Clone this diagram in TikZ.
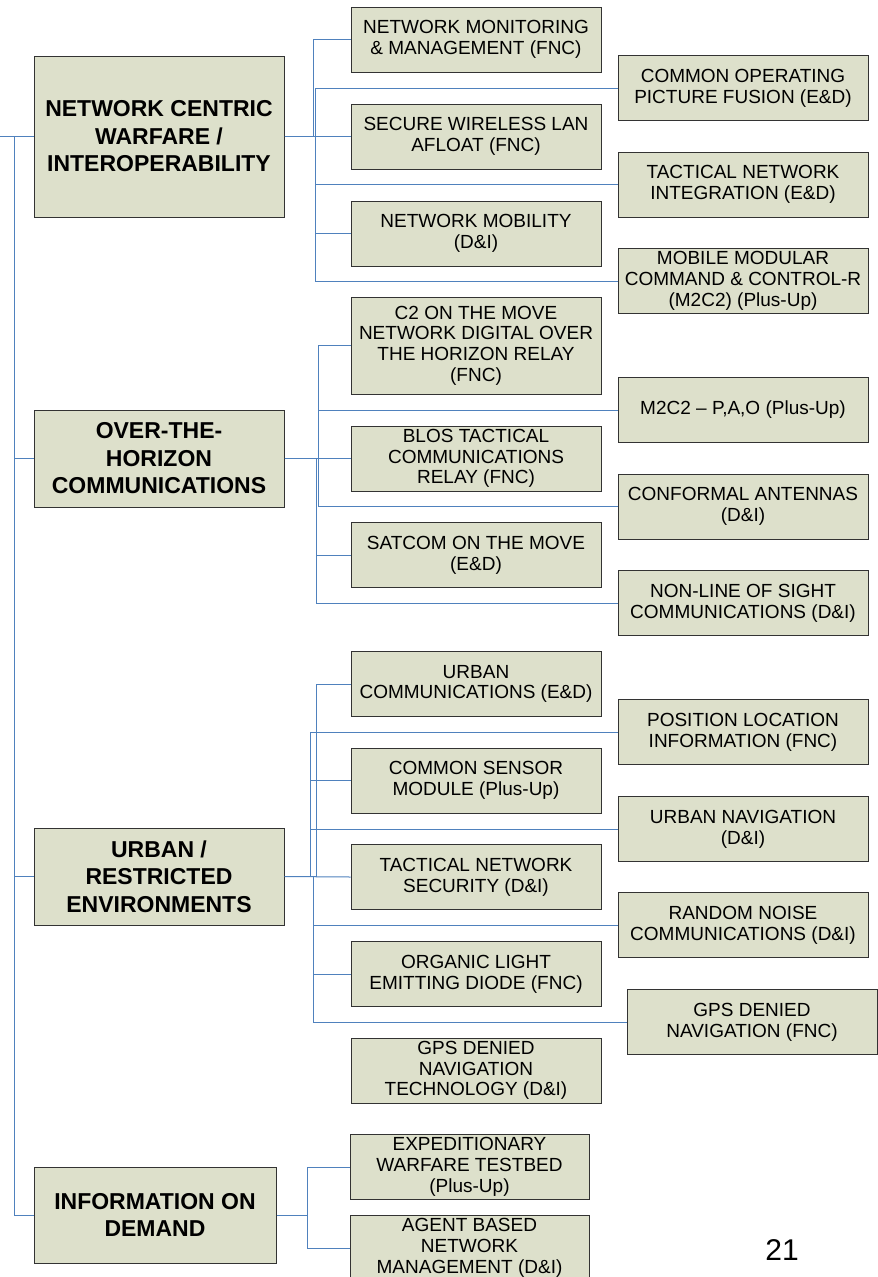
\documentclass[tikz,border=0pt]{standalone}
\usepackage{fontspec}
\setmainfont{Liberation Sans}
\usepackage{tikz}

\definecolor{boxfill}{RGB}{221,224,203}
\definecolor{linkblue}{RGB}{79,129,189}

\begin{document}
\begin{tikzpicture}[x=1pt, y=-1pt,
  leaf/.style={draw=black!80, line width=1pt, fill=boxfill, align=center, inner sep=0pt,
    minimum width=250pt, minimum height=65pt, font=\fontsize{19}{20.7}\selectfont},
  grp/.style={leaf, minimum height=97pt, font=\fontsize{23}{27.5}\selectfont\bfseries},
  link/.style={draw=linkblue, line width=1pt}]
  \useasboundingbox (0,0) rectangle (878,1277);

  % left column
  \node[grp, minimum height=161pt] (ncw) at (159,136.5) {NETWORK CENTRIC\\WARFARE /\\INTEROPERABILITY};
  \node[grp] (oth) at (159,458.5) {OVER-THE-\\HORIZON\\COMMUNICATIONS};
  \node[grp] (urb) at (159,876.5) {URBAN /\\RESTRICTED\\ENVIRONMENTS};
  \node[grp, minimum width=242pt, minimum height=96pt] (iod) at (155,1215) {INFORMATION ON\\DEMAND};

  % middle column
  \node[leaf] (nmm) at (476,39.5) {NETWORK MONITORING\\\& MANAGEMENT (FNC)};
  \node[leaf] (swl) at (476,136.5) {SECURE WIRELESS LAN\\AFLOAT (FNC)};
  \node[leaf] (nmob) at (476,233.5) {NETWORK MOBILITY\\(D\&I)};
  \node[leaf, minimum height=97pt] (c2) at (476,345.5) {C2 ON THE MOVE\\NETWORK DIGITAL OVER\\THE HORIZON RELAY\\(FNC)};
  \node[leaf] (blos) at (476,458.5) {BLOS TACTICAL\\COMMUNICATIONS\\RELAY (FNC)};
  \node[leaf] (sat) at (476,555) {SATCOM ON THE MOVE\\(E\&D)};
  \node[leaf] (ucom) at (476,684) {URBAN\\COMMUNICATIONS (E\&D)};
  \node[leaf] (csm) at (476,780.5) {COMMON SENSOR\\MODULE (Plus-Up)};
  \node[leaf] (tns) at (476,877) {TACTICAL NETWORK\\SECURITY (D\&I)};
  \node[leaf] (oled) at (476,974) {ORGANIC LIGHT\\EMITTING DIODE (FNC)};
  \node[leaf] (gpst) at (476,1070.5) {GPS DENIED\\NAVIGATION\\TECHNOLOGY (D\&I)};
  \node[leaf, minimum width=239pt] (ewt) at (469.5,1167) {EXPEDITIONARY\\WARFARE TESTBED\\(Plus-Up)};
  \node[leaf, minimum width=239pt] (abnm) at (469.5,1248) {AGENT BASED\\NETWORK\\MANAGEMENT (D\&I)};

  % right column
  \node[leaf] (copf) at (743,88) {COMMON OPERATING\\PICTURE FUSION (E\&D)};
  \node[leaf] (tni) at (743,184.5) {TACTICAL NETWORK\\INTEGRATION (E\&D)};
  \node[leaf] (m2c2) at (743,281) {MOBILE MODULAR\\COMMAND \& CONTROL-R\\(M2C2) (Plus-Up)};
  \node[leaf] (pao) at (743,410) {M2C2 – P,A,O (Plus-Up)};
  \node[leaf] (conf) at (743,506.5) {CONFORMAL ANTENNAS\\(D\&I)};
  \node[leaf] (nlos) at (743,603) {NON-LINE OF SIGHT\\COMMUNICATIONS (D\&I)};
  \node[leaf] (pos) at (743,732) {POSITION LOCATION\\INFORMATION (FNC)};
  \node[leaf] (unav) at (743,829) {URBAN NAVIGATION\\(D\&I)};
  \node[leaf] (rn) at (743,925) {RANDOM NOISE\\COMMUNICATIONS (D\&I)};
  \node[leaf] (gpsn) at (752,1022) {GPS DENIED\\NAVIGATION (FNC)};

  \node[font=\fontsize{30}{30}\selectfont] (pg) at (782,1250) {21};

  % trunk
  \coordinate (src) at (0,136.5);
  \draw[link] (src) -- (ncw.west);
  \draw[link] (src) ++(14,0) |- (oth.west);
  \draw[link] (src) ++(14,0) |- (urb.west);
  \draw[link] (src) ++(14,0) |- (iod.west);

  % branches
  \draw[link] (ncw.east) -- ++(29,0) |- (nmm.west);
  \foreach \n in {copf,swl,tni,nmob,m2c2}
    \draw[link] (ncw.east) -- ++(31,0) |- (\n.west);
  \foreach \n in {c2,pao,conf}
    \draw[link] (oth.east) -- ++(34,0) |- (\n.west);
  \foreach \n in {sat,nlos}
    \draw[link] (oth.east) -- ++(32,0) |- (\n.west);
  \draw[link] (oth.east) -- (blos.west);
  \draw[link] (urb.east) -- ++(32,0) |- (ucom.west);
  \foreach \n in {pos,csm,unav}
    \draw[link] (urb.east) -- ++(26,0) |- (\n.west);
  \foreach \n in {rn,oled,gpsn}
    \draw[link] (urb.east) -- ++(29,0) |- (\n.west);
  \draw[link] (urb.east) -- (tns.west);
  \foreach \n in {ewt,abnm}
    \draw[link] (iod.east) -- ++(31,0) |- (\n.west);
\end{tikzpicture}
\end{document}
